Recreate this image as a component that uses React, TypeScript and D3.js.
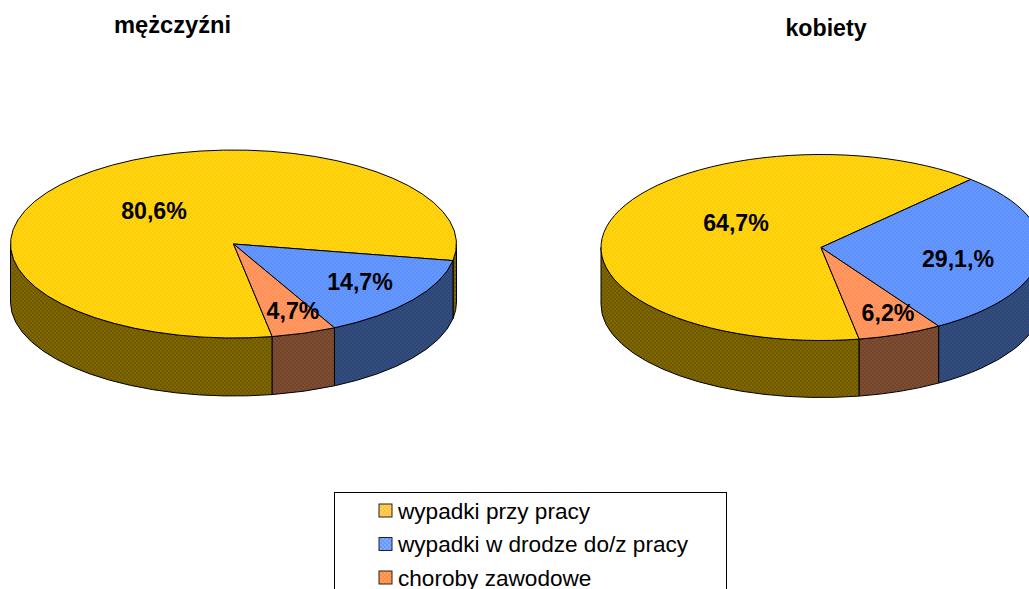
import React from "react";
import * as d3 from "d3";

const categories = ["wypadki przy pracy", "wypadki w drodze do/z pracy", "choroby zawodowe"];
const menValues = [80.6, 14.7, 4.7];
const womenValues = [64.7, 29.1, 6.2];
const menLabels = ["80,6%", "14,7%", "4,7%"];
const womenLabels = ["64,7%", "29,1,%", "6,2%"];
const topColors = [["#FFCC00", "#FFD61A"], ["#6699FF", "#5C8FF8"], ["#FF9966", "#FF8F55"]];
const sideColors = [["#806600", "#6F5A00"], ["#334D80", "#2E4674"], ["#804D33", "#70452C"]];
const swatchColors = [["#FFC433", "#FFD060"], ["#6699FF", "#7FAAFF"], ["#FF8C40", "#FF9F60"]];

const rad = (deg: number) => (deg * Math.PI) / 180;

function Dither({ id, a, b }: { id: string; a: string; b: string }) {
  return (
    <pattern id={id} width={4} height={4} patternUnits="userSpaceOnUse">
      <rect width={4} height={4} fill={a} />
      <rect x={0} y={0} width={2} height={2} fill={b} />
      <rect x={2} y={2} width={2} height={2} fill={b} />
    </pattern>
  );
}

type PieProps = {
  values: number[]; labels: string[]; cx: number; cy: number; rx: number; ry: number; depth: number;
  labelPos: [number, number][];
};

function Pie3D({ values, labels, cx, cy, rx, ry, depth, labelPos }: PieProps) {
  const arcs = d3.pie<number>().sort(null).startAngle(rad(170)).endAngle(rad(530))(values);
  const px = (t: number) => cx + rx * Math.sin(t);
  const py = (t: number) => cy - ry * Math.cos(t);
  const sides: React.ReactNode[] = [];
  arcs.forEach((a, i) => {
    // visible wall spans the front half of the ellipse: 90..270 deg, repeated each turn
    [0, 2 * Math.PI].forEach((turn, k) => {
      const s = Math.max(a.startAngle, rad(90) + turn);
      const e = Math.min(a.endAngle, rad(270) + turn);
      if (e <= s) return;
      const p = `M${px(s)},${py(s)}L${px(s)},${py(s) + depth}A${rx},${ry} 0 0 1 ${px(e)},${py(e) + depth}L${px(e)},${py(e)}A${rx},${ry} 0 0 0 ${px(s)},${py(s)}Z`;
      sides.push(<path key={`s${i}${k}`} d={p} fill={`url(#side${i})`} stroke="#000" strokeWidth={1} />);
    });
  });
  return (
    <g>
      {sides}
      {arcs.map((a, i) => {
        const s = a.startAngle, e = a.endAngle;
        const large = e - s > Math.PI ? 1 : 0;
        const p = `M${cx},${cy}L${px(s)},${py(s)}A${rx},${ry} 0 ${large} 1 ${px(e)},${py(e)}Z`;
        return <path key={i} d={p} fill={`url(#top${i})`} stroke="#000" strokeWidth={1} strokeLinejoin="round" />;
      })}
      {labels.map((l, i) => (
        <text key={l} x={labelPos[i][0]} y={labelPos[i][1]} textAnchor="middle" fontSize={23.2} fontWeight="bold" fill="#000">{l}</text>
      ))}
    </g>
  );
}

export default function App() {
  const font = "'Liberation Sans', Arial, sans-serif";
  const legendY = d3.scalePoint<string>().domain(categories).range([511, 578]);
  return (
    <svg width={1029} height={589} viewBox="0 0 1029 589"
      style={{ position: "absolute", left: 0, top: 0, display: "block", background: "#fff", fontFamily: font }}>
      <defs>
        {topColors.map((c, i) => <Dither key={i} id={`top${i}`} a={c[0]} b={c[1]} />)}
        {sideColors.map((c, i) => <Dither key={i} id={`side${i}`} a={c[0]} b={c[1]} />)}
        {swatchColors.map((c, i) => <Dither key={i} id={`sw${i}`} a={c[0]} b={c[1]} />)}
      </defs>
      <text x={172.5} y={33} textAnchor="middle" fontSize={23.7} fontWeight="bold">mężczyźni</text>
      <text x={826} y={36} textAnchor="middle" fontSize={23.2} fontWeight="bold">kobiety</text>
      <Pie3D values={menValues} labels={menLabels} cx={233.5} cy={244} rx={223} ry={94} depth={58}
        labelPos={[[154, 219], [360, 290], [293, 319]]} />
      <Pie3D values={womenValues} labels={womenLabels} cx={821} cy={247.5} rx={220} ry={93} depth={57}
        labelPos={[[736, 231], [958, 267], [888, 321]]} />
      <rect x={334.5} y={492.5} width={392} height={120} fill="none" stroke="#000" strokeWidth={1} />
      {categories.map((c, i) => {
        const y = legendY(c)!;
        return (
          <g key={c}>
            <rect x={379} y={y - 7} width={13} height={13} fill={`url(#sw${i})`} stroke="#222" strokeWidth={1} />
            <text x={398} y={y + 7.5} fontSize={22.6} fill="#000">{c}</text>
          </g>
        );
      })}
    </svg>
  );
}
